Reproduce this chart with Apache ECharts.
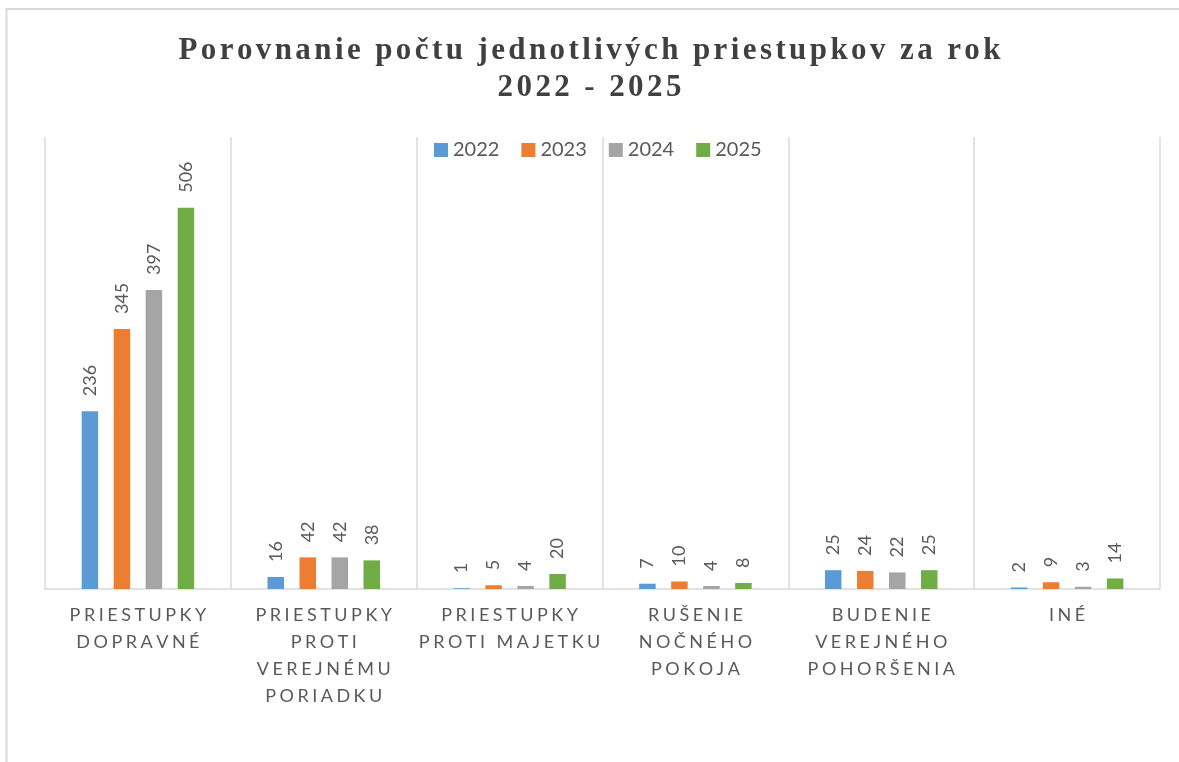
<!DOCTYPE html>
<html>
<head>
<meta charset="utf-8">
<script src="https://cdn.jsdelivr.net/npm/echarts@6/dist/echarts.min.js"></script>
<style>
  html, body { margin: 0; padding: 0; background: #fff; }
  #chart { width: 1179px; height: 762px; }
</style>
</head>
<body>
<div id="chart"></div>
<script>
// categories as printed under the axis (line breaks as in the picture)
const categories = [
  'PRIESTUPKY\nDOPRAVNÉ',
  'PRIESTUPKY\nPROTI\nVEREJNÉMU\nPORIADKU',
  'PRIESTUPKY\nPROTI MAJETKU',
  'RUŠENIE\nNOČNÉHO\nPOKOJA',
  'BUDENIE\nVEREJNÉHO\nPOHORŠENIA',
  'INÉ'
];
const years = ['2022', '2023', '2024', '2025'];
const values2022 = [236, 16, 1, 7, 25, 2];
const values2023 = [345, 42, 5, 10, 24, 9];
const values2024 = [397, 42, 4, 4, 22, 3];
const values2025 = [506, 38, 20, 8, 25, 14];
const colors = ['#5B9BD5', '#ED7D31', '#A5A5A5', '#70AD47'];
const titleLines = ['Porovnanie počtu jednotlivých priestupkov za rok', '2022 - 2025'];

// letter spacing: small spacer tokens between characters
const spaced = (text) =>
  text.split('\n')
    .map((line) => Array.from(line).map((c) => `{t|${c}}`).join('{s| }'))
    .join('\n');

const chart = echarts.init(document.getElementById('chart'));

const allValues = [values2022, values2023, values2024, values2025];

chart.setOption({
  animation: false,
  color: colors,
  title: {
    text: spaced(titleLines.join('\n')),
    left: 'center',
    top: 27,
    textStyle: {
      rich: {
        t: { fontFamily: 'Liberation Serif', fontWeight: 'bold', fontSize: 31, color: '#404040', lineHeight: 37 },
        s: { fontFamily: 'Liberation Serif', fontSize: 13.6, lineHeight: 37 }
      }
    }
  },
  legend: {
    data: years,
    left: 429,
    top: 135,
    icon: 'rect',
    itemWidth: 14,
    itemHeight: 14,
    itemGap: 22,
    textStyle: { fontFamily: 'Lato', fontSize: 20, color: '#595959' }
  },
  grid: { left: 45, right: 19, top: 137, bottom: 173 },
  xAxis: {
    type: 'category',
    data: categories,
    axisLine: { lineStyle: { color: '#d9d9d9', width: 1.5 } },
    axisTick: { show: false },
    splitLine: { show: true, lineStyle: { color: '#d9d9d9', width: 1.5 } },
    axisLabel: {
      interval: 0,
      margin: 13,
      formatter: (v) => spaced(v),
      rich: {
        t: { fontFamily: 'Lato', fontSize: 18, color: '#595959', lineHeight: 27 },
        s: { fontFamily: 'Liberation Serif', fontSize: 14, lineHeight: 27 }
      }
    }
  },
  yAxis: {
    type: 'value',
    min: 0,
    max: 600,
    show: false,
    splitLine: { show: false }
  },
  graphic: [{
    type: 'rect',
    silent: true,
    shape: { x: 6.5, y: 9, width: 1300, height: 900 },
    style: { fill: 'none', stroke: '#d9d9d9', lineWidth: 2 }
  }],
  series: years.map((y, i) => ({
    name: y,
    type: 'bar',
    data: allValues[i],
    barWidth: 16.5,
    barGap: '94%',
    label: {
      show: true,
      position: 'top',
      distance: 15,
      rotate: 90,
      align: 'left',
      verticalAlign: 'middle',
      fontFamily: 'Lato',
      fontSize: 18,
      color: '#595959'
    }
  }))
});
</script>
</body>
</html>
